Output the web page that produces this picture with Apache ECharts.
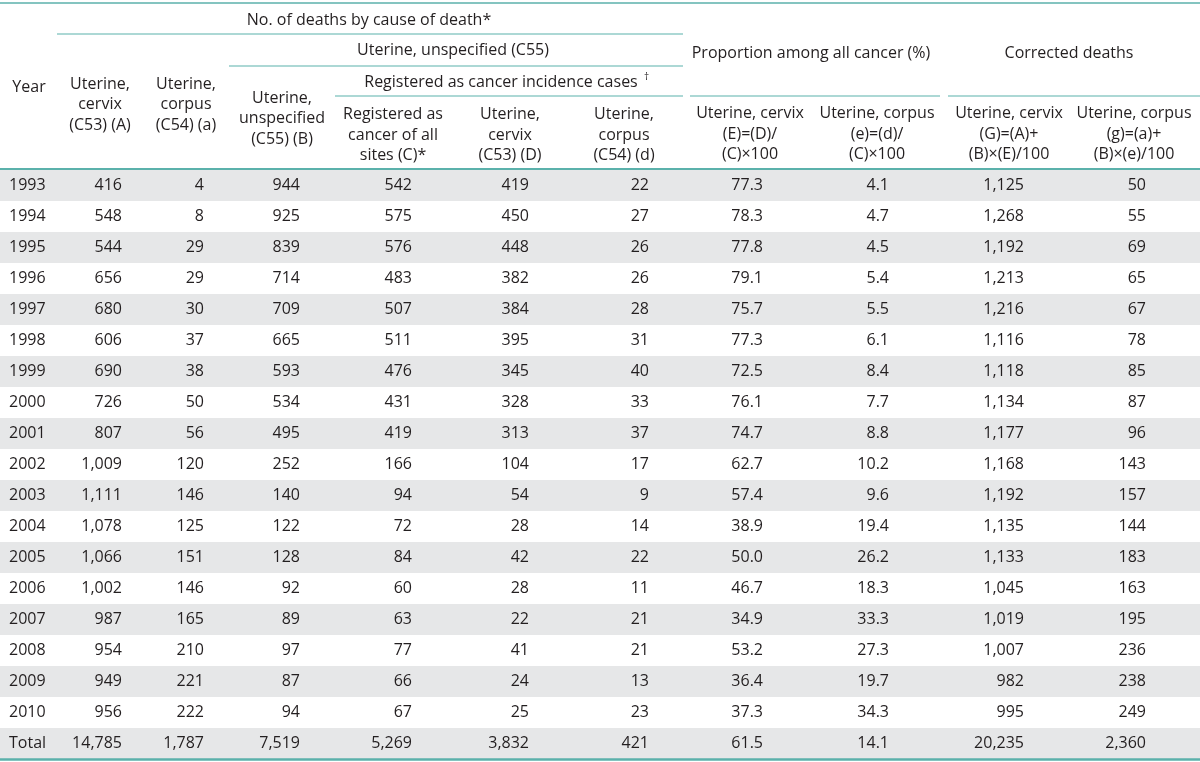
<!DOCTYPE html>
<html><head><meta charset="utf-8">
<script src="https://cdn.jsdelivr.net/npm/echarts@6/dist/echarts.min.js"></script>
<style>html,body{margin:0;padding:0;background:#fff}#c{width:1200px;height:762px}</style>
</head><body><div id="c"></div>
<script>
// ---- data ----
const rowLabels = ['1993','1994','1995','1996','1997','1998','1999','2000','2001','2002','2003','2004','2005','2006','2007','2008','2009','2010','Total'];
const cervixDeathsA   = [416,548,544,656,680,606,690,726,807,1009,1111,1078,1066,1002,987,954,949,956,14785];
const corpusDeathsA2  = [4,8,29,29,30,37,38,50,56,120,146,125,151,146,165,210,221,222,1787];
const unspecDeathsB   = [944,925,839,714,709,665,593,534,495,252,140,122,128,92,89,97,87,94,7519];
const allSitesC       = [542,575,576,483,507,511,476,431,419,166,94,72,84,60,63,77,66,67,5269];
const cervixIncD      = [419,450,448,382,384,395,345,328,313,104,54,28,42,28,22,41,24,25,3832];
const corpusIncD2     = [22,27,26,26,28,31,40,33,37,17,9,14,22,11,21,21,13,23,421];
const cervixPropE     = [77.3,78.3,77.8,79.1,75.7,77.3,72.5,76.1,74.7,62.7,57.4,38.9,50.0,46.7,34.9,53.2,36.4,37.3,61.5];
const corpusPropE2    = [4.1,4.7,4.5,5.4,5.5,6.1,8.4,7.7,8.8,10.2,9.6,19.4,26.2,18.3,33.3,27.3,19.7,34.3,14.1];
const cervixCorrG     = [1125,1268,1192,1213,1216,1116,1118,1134,1177,1168,1192,1135,1133,1045,1019,1007,982,995,20235];
const corpusCorrG2    = [50,55,69,65,67,78,85,87,96,143,157,144,183,163,195,236,238,249,2360];

const columns  = [cervixDeathsA, corpusDeathsA2, unspecDeathsB, allSitesC, cervixIncD, corpusIncD2, cervixPropE, corpusPropE2, cervixCorrG, corpusCorrG2];
const decimals = [0,0,0,0,0,0,1,1,0,0];

// ---- layout (column anchors on a 0..1200 value axis) ----
const colRight = [122,204,300,412,529,649,763,889,1024,1146];
const yearLeft = 9;

const FONT = 'Open Sans';
const FS = 16;
const TXT = '#231f20';
const TEAL = '#5bb1ab';
const BAND = '#e6e7e8';

function fmt(v, d) { return d ? v.toFixed(d) : v.toLocaleString('en-US'); }

const cellData = [];
columns.forEach((col, c) => col.forEach((v, r) => cellData.push([colRight[c], r, fmt(v, decimals[c]), 'right'])));
rowLabels.forEach((lab, r) => cellData.push([yearLeft, r, lab, 'left']));

const headerTexts = [
  {t:'No. of deaths by cause of death*', x:369, y:20},
  {t:'Uterine, unspecified (C55)', x:453, y:50},
  {t:'Registered as cancer incidence cases', x:501, y:82},
  {t:'Proportion among all cancer (%)', x:811, y:53},
  {t:'Corrected deaths', x:1069, y:53},
  {t:'Year', x:29, y:87},
  {t:'Uterine,\ncervix\n(C53) (A)', x:100, y:104.5},
  {t:'Uterine,\ncorpus\n(C54) (a)', x:186, y:104.5},
  {t:'Uterine,\nunspecified\n(C55) (B)', x:282, y:118.5},
  {t:'Registered as\ncancer of all\nsites (C)*', x:393, y:135},
  {t:'Uterine,\ncervix\n(C53) (D)', x:510, y:135},
  {t:'Uterine,\ncorpus\n(C54) (d)', x:624, y:135},
  {t:'Uterine, cervix\n(E)=(D)/\n(C)×100', x:750, y:134},
  {t:'Uterine, corpus\n(e)=(d)/\n(C)×100', x:877, y:134},
  {t:'Uterine, cervix\n(G)=(A)+\n(B)×(E)/100', x:1009, y:134},
  {t:'Uterine, corpus\n(g)=(a)+\n(B)×(e)/100', x:1134, y:134}
];
const headerLines = [
  {x1:0, x2:1200, y:3, w:1.5},
  {x1:57, x2:683, y:34, w:1.2},
  {x1:229, x2:683, y:66, w:1.2},
  {x1:335, x2:683, y:96, w:1.2},
  {x1:690, x2:940, y:96, w:1.2},
  {x1:948, x2:1200, y:96, w:1.2},
  {x1:0, x2:1200, y:169, w:2},
  {x1:0, x2:1200, y:759.5, w:2.5}
];

const graphics = [];
headerTexts.forEach(h => graphics.push({
  type:'text', x:h.x, y:h.y, z:10,
  style:{text:h.t, fill:TXT, fontFamily:FONT, fontSize:FS, lineHeight:20.5, textAlign:'center', textVerticalAlign:'middle'}
}));
graphics.push({type:'text', x:644, y:77, z:10, style:{text:'†', fill:TXT, fontFamily:FONT, fontSize:10, textAlign:'left', textVerticalAlign:'middle'}});
headerLines.forEach(l => graphics.push({
  type:'line', z:10, shape:{x1:l.x1, y1:l.y, x2:l.x2, y2:l.y}, style:{stroke:TEAL, lineWidth:l.w}
}));

const chart = echarts.init(document.getElementById('c'), null, {renderer:'canvas'});
chart.setOption({
  animation:false,
  backgroundColor:'#ffffff',
  grid:{left:0, right:0, top:170, bottom:3, containLabel:false},
  xAxis:{type:'value', min:0, max:1200, show:false},
  yAxis:{type:'category', data:rowLabels, inverse:true,
    axisLine:{show:false}, axisTick:{show:false}, axisLabel:{show:false}, splitLine:{show:false},
    splitArea:{show:true, areaStyle:{color:[BAND, '#ffffff']}}},
  graphic:graphics,
  series:[{
    type:'custom', coordinateSystem:'cartesian2d', data:cellData,
    encode:{x:0, y:1},
    renderItem:function(params, api){
      const d = cellData[params.dataIndex];
      const p = api.coord([d[0], d[1]]);
      return {type:'text', x:p[0], y:p[1],
        style:{text:d[2], textAlign:d[3], textVerticalAlign:'middle', fill:TXT, fontFamily:FONT, fontSize:FS}};
    }
  }]
});
</script></body></html>
